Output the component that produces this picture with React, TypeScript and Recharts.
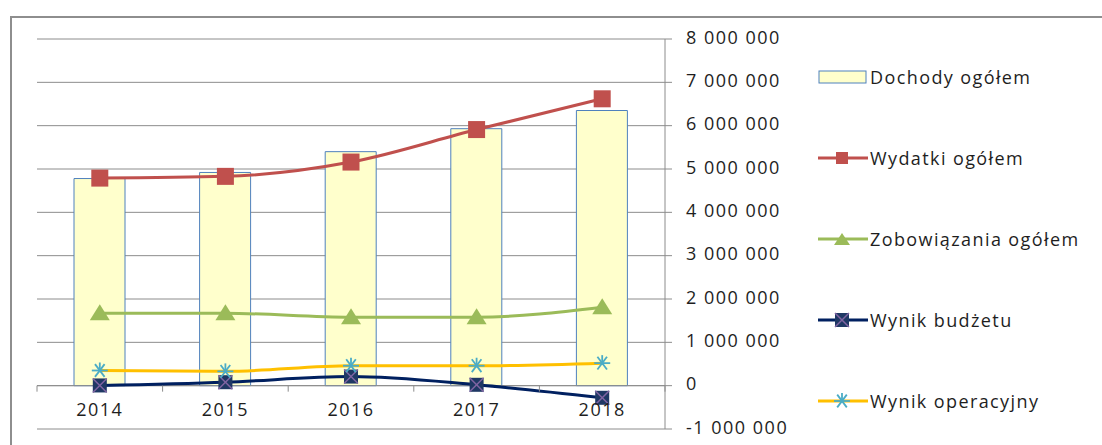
import React from 'react';
import {
  ComposedChart,
  Bar,
  Line,
  XAxis,
  YAxis,
  CartesianGrid,
  ReferenceLine,
} from 'recharts';

const years = ['2014', '2015', '2016', '2017', '2018'];
const dochody = [4780000, 4920000, 5400000, 5930000, 6350000];
const wydatki = [4790000, 4830000, 5160000, 5910000, 6620000];
const zobowiazania = [1670000, 1670000, 1580000, 1580000, 1810000];
const wynikBudzetu = [5000, 80000, 210000, 20000, -280000];
const wynikOperacyjny = [350000, 330000, 460000, 460000, 520000];
const yTicks = [-1000000, 0, 1000000, 2000000, 3000000, 4000000, 5000000, 6000000, 7000000, 8000000];

const data = years.map((year, i) => ({
  year,
  dochody: dochody[i],
  wydatki: wydatki[i],
  zobowiazania: zobowiazania[i],
  wynikBudzetu: wynikBudzetu[i],
  wynikOperacyjny: wynikOperacyjny[i],
}));

const FONT = '"Open Sans", sans-serif';
const WEIGHT = 500;
const TEXT = '#1e1e1e';
const GRID = '#8c8c8c';

const W = 1102;
const H = 445;
const PLOT_LEFT = 37;
const PLOT_RIGHT = 665;
const PLOT_TOP = 39;
const PLOT_BOTTOM = 429;
const Y_AXIS_W = 110;
const X_AXIS_H = 16;
const Y_MIN = -1000000;
const Y_MAX = 8000000;

const BAND = (PLOT_RIGHT - PLOT_LEFT) / years.length;
const ZERO_UP = ((PLOT_BOTTOM - PLOT_TOP) * (0 - Y_MIN)) / (Y_MAX - Y_MIN);

const COLORS = {
  barFill: '#FFFFCC',
  barStroke: '#4F81BD',
  wydatki: '#C0504D',
  zobowiazania: '#9BBB59',
  budzet: '#002060',
  budzetMarker: '#1F3864',
  cross: '#8064A2',
  operacyjny: '#FFC000',
  star: '#4BACC6',
};

function fmt(v: number) {
  const s = Math.abs(v).toString().replace(/\B(?=(\d{3})+(?!\d))/g, ' ');
  return v < 0 ? '-' + s : s;
}

function Square({ cx, cy, size = 16, fill }: any) {
  return <rect x={cx - size / 2} y={cy - size / 2} width={size} height={size} fill={fill} />;
}

function Triangle({ cx, cy, fill }: any) {
  return <polygon points={`${cx - 10},${cy + 7} ${cx + 10},${cy + 7} ${cx},${cy - 9}`} fill={fill} />;
}

function CrossSquare({ cx, cy }: any) {
  const s = 7;
  return (
    <g>
      <rect x={cx - s} y={cy - s} width={s * 2} height={s * 2} fill={COLORS.budzetMarker} />
      <line x1={cx - s} y1={cy - s} x2={cx + s} y2={cy + s} stroke={COLORS.cross} strokeWidth={1.5} />
      <line x1={cx + s} y1={cy - s} x2={cx - s} y2={cy + s} stroke={COLORS.cross} strokeWidth={1.5} />
    </g>
  );
}

function Star({ cx, cy }: any) {
  const r = 8;
  return (
    <g stroke={COLORS.star} strokeWidth={1.8}>
      <line x1={cx - r} y1={cy} x2={cx + r} y2={cy} />
      <line x1={cx - r * 0.6} y1={cy - r * 0.8} x2={cx + r * 0.6} y2={cy + r * 0.8} />
      <line x1={cx + r * 0.6} y1={cy - r * 0.8} x2={cx - r * 0.6} y2={cy + r * 0.8} />
      <line x1={cx} y1={cy - r} x2={cx} y2={cy + r * 0.2} />
    </g>
  );
}

function XTick(props: any) {
  const { x, y, payload, index } = props;
  const y0 = y - ZERO_UP;
  return (
    <g>
      <line x1={x - BAND / 2} y1={y0} x2={x - BAND / 2} y2={y0 + 6} stroke={GRID} />
      {index === years.length - 1 && (
        <line x1={x + BAND / 2} y1={y0} x2={x + BAND / 2} y2={y0 + 6} stroke={GRID} />
      )}
      <text
        x={x}
        y={y0 + 26}
        textAnchor="middle"
        dominantBaseline="middle"
        fontFamily={FONT}
        fontWeight={WEIGHT}
        fontSize={18}
        letterSpacing={1.5}
        fill={TEXT}
      >
        {payload.value}
      </text>
    </g>
  );
}

function YTick(props: any) {
  const { x, y, payload } = props;
  return (
    <text
      x={x}
      y={y}
      textAnchor="start"
      dominantBaseline="middle"
      fontFamily={FONT}
      fontWeight={WEIGHT}
      fontSize={18}
      letterSpacing={1.5}
      fill={TEXT}
    >
      {fmt(payload.value)}
    </text>
  );
}

const legendItems = [
  { label: 'Dochody ogółem', kind: 'bar' },
  { label: 'Wydatki ogółem', kind: 'wydatki' },
  { label: 'Zobowiązania ogółem', kind: 'zobowiazania' },
  { label: 'Wynik budżetu', kind: 'budzet' },
  { label: 'Wynik operacyjny', kind: 'operacyjny' },
];

function LegendIcon({ kind }: { kind: string }) {
  const cx = 24;
  const cy = 10;
  if (kind === 'bar') {
    return <rect x={1} y={4} width={47} height={12} fill={COLORS.barFill} stroke={COLORS.barStroke} />;
  }
  const color =
    kind === 'wydatki'
      ? COLORS.wydatki
      : kind === 'zobowiazania'
      ? COLORS.zobowiazania
      : kind === 'budzet'
      ? COLORS.budzet
      : COLORS.operacyjny;
  return (
    <g>
      <line x1={0} y1={cy} x2={50} y2={cy} stroke={color} strokeWidth={3} />
      {kind === 'wydatki' && <Square cx={cx} cy={cy} size={12} fill={COLORS.wydatki} />}
      {kind === 'zobowiazania' && (
        <polygon points={`${cx - 8},${cy + 6} ${cx + 8},${cy + 6} ${cx},${cy - 6}`} fill={COLORS.zobowiazania} />
      )}
      {kind === 'budzet' && <CrossSquare cx={cx} cy={cy} />}
      {kind === 'operacyjny' && <Star cx={cx} cy={cy} />}
    </g>
  );
}

function LegendBox() {
  return (
    <div style={{ position: 'absolute', left: 818, top: 36, fontFamily: FONT }}>
      {legendItems.map((item) => (
        <div key={item.label} style={{ display: 'flex', alignItems: 'center', height: 81 }}>
          <svg width={51} height={20} style={{ display: 'block' }}>
            <LegendIcon kind={item.kind} />
          </svg>
          <span
            style={{
              fontSize: 18,
              fontWeight: WEIGHT,
              letterSpacing: 1.4,
              color: TEXT,
              marginLeft: 1,
              whiteSpace: 'nowrap',
            }}
          >
            {item.label}
          </span>
        </div>
      ))}
    </div>
  );
}

export default function App() {
  return (
    <div
      style={{
        position: 'absolute',
        left: 0,
        top: 0,
        width: W,
        height: H,
        overflow: 'hidden',
        background: '#fff',
      }}
    >
      <div
        style={{
          position: 'absolute',
          left: 10,
          top: 16,
          width: 1200,
          height: 600,
          border: '2px solid #8e8e8e',
          boxSizing: 'border-box',
        }}
      />
      <div style={{ position: 'absolute', left: 0, top: 0 }}>
        <ComposedChart
          width={W}
          height={H}
          data={data}
          margin={{
            top: PLOT_TOP,
            left: PLOT_LEFT,
            right: W - PLOT_RIGHT - Y_AXIS_W,
            bottom: H - PLOT_BOTTOM - X_AXIS_H,
          }}
        >
          <CartesianGrid vertical={false} stroke={GRID} strokeWidth={1} />
          <XAxis
            dataKey="year"
            axisLine={false}
            tickLine={false}
            tickSize={0}
            tickMargin={0}
            height={X_AXIS_H}
            tick={<XTick />}
            interval={0}
          />
          <YAxis
            orientation="right"
            domain={[Y_MIN, Y_MAX]}
            ticks={yTicks}
            interval={0}
            width={Y_AXIS_W}
            axisLine={{ stroke: GRID }}
            tickLine={{ stroke: GRID }}
            tickSize={7}
            tickMargin={14}
            tick={<YTick />}
          />
          <ReferenceLine y={0} stroke={GRID} />
          <Bar
            dataKey="dochody"
            barSize={51}
            fill={COLORS.barFill}
            stroke={COLORS.barStroke}
            strokeWidth={1}
            isAnimationActive={false}
          />
          <Line
            type="monotone"
            dataKey="wydatki"
            stroke={COLORS.wydatki}
            strokeWidth={3}
            dot={(p: any) => <Square key={p.index} cx={p.cx} cy={p.cy} size={17} fill={COLORS.wydatki} />}
            isAnimationActive={false}
          />
          <Line
            type="monotone"
            dataKey="zobowiazania"
            stroke={COLORS.zobowiazania}
            strokeWidth={3}
            dot={(p: any) => <Triangle key={p.index} cx={p.cx} cy={p.cy} fill={COLORS.zobowiazania} />}
            isAnimationActive={false}
          />
          <Line
            type="monotone"
            dataKey="wynikBudzetu"
            stroke={COLORS.budzet}
            strokeWidth={3}
            dot={(p: any) => <CrossSquare key={p.index} cx={p.cx} cy={p.cy} />}
            isAnimationActive={false}
          />
          <Line
            type="monotone"
            dataKey="wynikOperacyjny"
            stroke={COLORS.operacyjny}
            strokeWidth={3}
            dot={(p: any) => <Star key={p.index} cx={p.cx} cy={p.cy} />}
            isAnimationActive={false}
          />
        </ComposedChart>
      </div>
      <LegendBox />
    </div>
  );
}
